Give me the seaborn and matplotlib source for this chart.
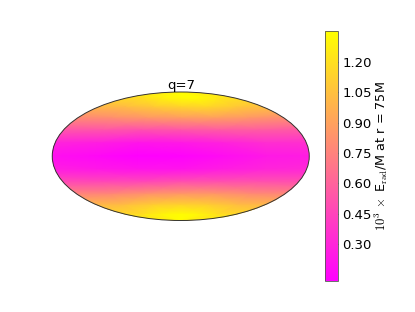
import numpy as np
import matplotlib
matplotlib.use("Agg")
import matplotlib.pyplot as plt
import seaborn as sns

sns.set_style("white")
plt.rcParams['mathtext.fontset'] = 'cm'
plt.rcParams['text.color'] = 'k'
plt.rcParams['axes.labelcolor'] = 'k'
plt.rcParams['ytick.color'] = 'k'

# nodes of the sky map, outer longitudes sit past the edge so the ellipse gets filled
lat_deg = [90, 75, 60, 45, 30, 15, 0, -15, -30, -45, -60, -75, -90]
lon_deg = [-270, -120, -60, 0, 60, 120, 270]

# 10^3 x E_rad/M, one row per latitude
row_p90 = [1.35, 1.35, 1.35, 1.35, 1.35, 1.35, 1.35]
row_p75 = [1.12, 1.20, 1.28, 1.33, 1.33, 1.25, 1.12]
row_p60 = [0.98, 1.02, 1.08, 1.13, 1.15, 1.08, 0.98]
row_p45 = [0.76, 0.80, 0.84, 0.87, 0.88, 0.84, 0.76]
row_p30 = [0.52, 0.52, 0.50, 0.52, 0.55, 0.56, 0.52]
row_p15 = [0.32, 0.26, 0.22, 0.24, 0.28, 0.34, 0.36]
row_000 = [0.24, 0.16, 0.12, 0.13, 0.18, 0.24, 0.28]
row_m15 = [0.30, 0.24, 0.22, 0.22, 0.26, 0.30, 0.34]
row_m30 = [0.50, 0.48, 0.48, 0.52, 0.52, 0.52, 0.50]
row_m45 = [0.76, 0.78, 0.84, 0.87, 0.86, 0.80, 0.76]
row_m60 = [0.98, 1.04, 1.12, 1.15, 1.12, 1.04, 0.98]
row_m75 = [1.12, 1.20, 1.30, 1.34, 1.30, 1.20, 1.12]
row_m90 = [1.35, 1.35, 1.35, 1.35, 1.35, 1.35, 1.35]
e_rad = [row_p90, row_p75, row_p60, row_p45, row_p30, row_p15, row_000,
         row_m15, row_m30, row_m45, row_m60, row_m75, row_m90]

cbar_ticks = [0.30, 0.45, 0.60, 0.75, 0.90, 1.05, 1.20]

fig = plt.figure(figsize=(4.15, 3.12), dpi=100, facecolor='w')
ax = fig.add_axes([52/415, 1 - 220.5/312, 257.5/415, 128.5/312], projection='mollweide')
lon, lat = np.meshgrid(np.radians(lon_deg), np.radians(lat_deg))
im = ax.pcolormesh(lon, lat, np.array(e_rad), shading='gouraud',
                   cmap=sns.color_palette('spring', as_cmap=True), vmin=0.12, vmax=1.353)
ax.set_facecolor('#ff9060')
ax.grid(False)
ax.set_xticklabels([])
ax.set_yticklabels([])
ax.tick_params(left=False, bottom=False)
for spine in ax.spines.values():
    spine.set_linewidth(0.7)
    spine.set_edgecolor('#333333')
ax.set_title('q=7', fontsize=9.5, pad=1.5)

cax = fig.add_axes([325/415, 1 - 280.7/312, 13/415, 249.7/312])
cbar = fig.colorbar(im, cax=cax, ticks=cbar_ticks)
cbar.ax.set_yticklabels([f'{t:.2f}' for t in cbar_ticks])
cbar.ax.tick_params(axis='y', direction='in', length=3, width=0.5, labelsize=9.5, pad=3, right=True)
cbar.outline.set_linewidth(0.6)
cbar.outline.set_edgecolor('#555555')
cbar.set_label(r'$10^3\;\times\;$E$_{\rm rad}$/M at r = 75M', fontsize=9.2, labelpad=1)

plt.savefig('out.png', dpi=100, facecolor='w')
